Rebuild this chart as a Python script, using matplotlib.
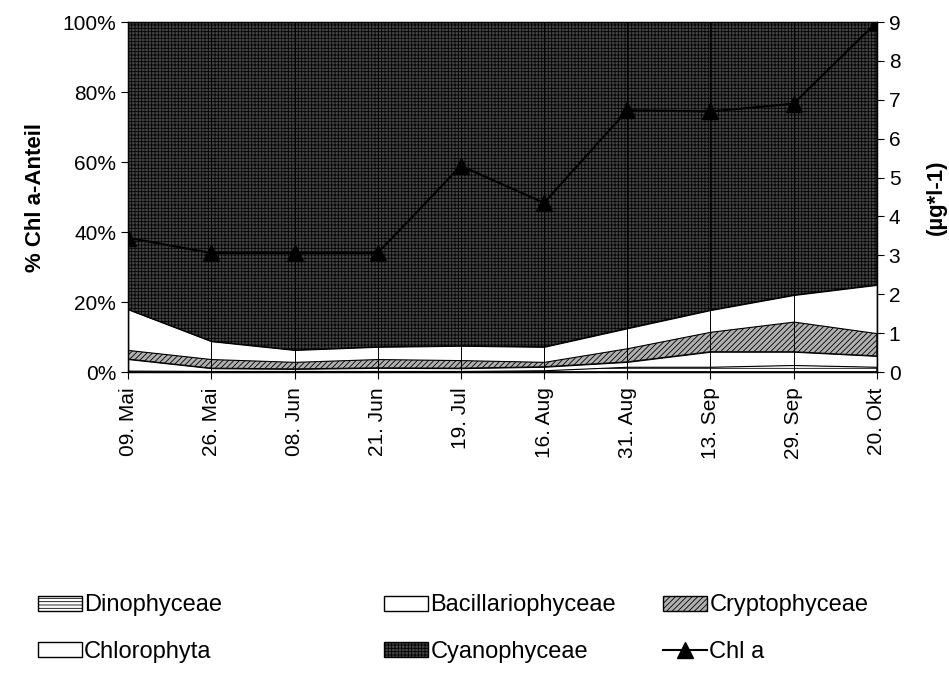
import matplotlib
matplotlib.use("Agg")
import matplotlib.pyplot as plt
from matplotlib.patches import Patch
from matplotlib.lines import Line2D

plt.rcParams['font.family'] = ['Liberation Sans', 'DejaVu Sans']
plt.rcParams['hatch.linewidth'] = 0.6

# sampling dates
dates = ['09. Mai', '26. Mai', '08. Jun', '21. Jun', '19. Jul',
         '16. Aug', '31. Aug', '13. Sep', '29. Sep', '20. Okt']

# share of chlorophyll a per algal group (%)
dinophyceae = [0.4, 0.3, 0.3, 0.3, 0.3, 0.5, 1.5, 1.5, 2.0, 1.5]
bacillariophyceae = [3.3, 0.8, 0.6, 0.9, 0.8, 1.0, 1.4, 4.3, 3.8, 3.1]
cryptophyceae = [2.6, 2.6, 2.0, 2.5, 2.3, 1.4, 3.9, 5.7, 8.6, 6.5]
chlorophyta = [11.6, 5.1, 3.4, 3.5, 4.1, 4.3, 5.7, 6.2, 7.6, 13.8]
cyanophyceae = [82.1, 91.2, 93.7, 92.8, 92.5, 92.8, 87.5, 82.3, 78.0, 75.1]

# total chlorophyll a (µg/l)
chl_a = [3.45, 3.06, 3.06, 3.06, 5.3, 4.35, 6.73, 6.7, 6.9, 9.0]

x = list(range(len(dates)))

fig = plt.figure(figsize=(9.49, 6.77), dpi=100)
ax = fig.add_axes([0.135, 0.4505, 0.789, 0.517])

layers = [dinophyceae, bacillariophyceae, cryptophyceae, chlorophyta, cyanophyceae]
faces = ['white', 'white', '#b0b0b0', 'white', '#454545']
hatches = ['-----', None, '//////', None, '+++++']
polys = ax.stackplot(x, layers, colors=faces, edgecolor='black', linewidth=0.8)
for p, h in zip(polys, hatches):
    if h:
        p.set_hatch(h)

for xi in x:
    ax.axvline(xi, color='black', linewidth=0.7, zorder=2)

ax.set_xlim(0, len(dates) - 1)
ax.set_ylim(0, 100)
ax.set_yticks(range(0, 101, 20))
ax.set_yticklabels([f'{v}%' for v in range(0, 101, 20)], fontsize=15)
ax.set_xticks(x)
ax.set_xticklabels(dates, rotation=90, fontsize=15)
ax.tick_params(length=5)
ax.tick_params(axis='x', pad=6)
ax.set_ylabel('% Chl a-Anteil', fontsize=16, fontweight='bold', labelpad=12)
for s in ax.spines.values():
    s.set_linewidth(1.0)

ax2 = ax.twinx()
ax2.plot(x, chl_a, color='black', marker='^', markersize=11, linewidth=1.5, zorder=5)
ax2.set_ylim(0, 9)
ax2.set_yticks(range(0, 10))
ax2.tick_params(labelsize=15, length=5)
ax2.set_ylabel('(µg*l-1)', fontsize=16, fontweight='bold', labelpad=18)

cyan_patch = Patch(facecolor='#454545', edgecolor='black', hatch='+++++', label='Cyanophyceae')
columns = [
    (0.040, [Patch(facecolor='white', edgecolor='black', hatch='-----', label='Dinophyceae'),
             Patch(facecolor='white', edgecolor='black', label='Chlorophyta')]),
    (0.405, [Patch(facecolor='white', edgecolor='black', label='Bacillariophyceae'),
             cyan_patch]),
    (0.699, [Patch(facecolor='#b0b0b0', edgecolor='black', hatch='//////', label='Cryptophyceae'),
             Line2D([], [], color='black', marker='^', markersize=11, linewidth=1.5,
                    label='Chl a')]),
]
for xpos, hs in columns:
    fig.legend(handles=hs, loc='upper left', bbox_to_anchor=(xpos, 0.122),
               frameon=False, fontsize=17, handlelength=1.85, handleheight=0.6,
               handletextpad=0.1, labelspacing=1.05, borderaxespad=0, borderpad=0)

fig.savefig('out.png', dpi=100)
